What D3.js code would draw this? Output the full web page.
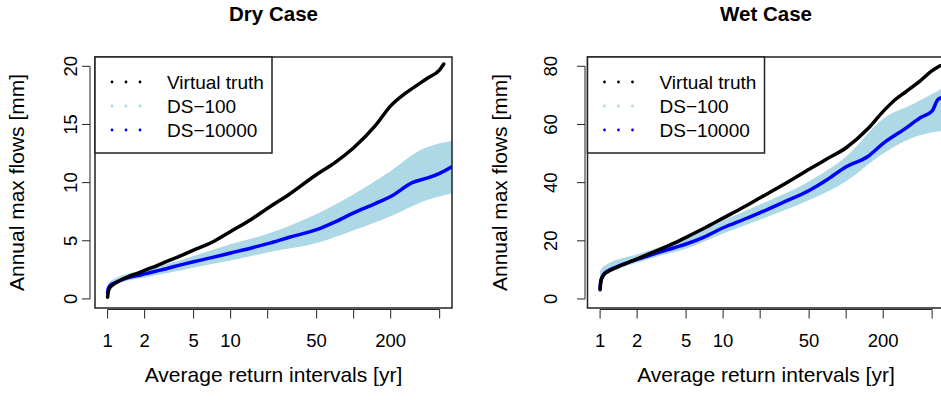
<!DOCTYPE html>
<html>
<head>
<meta charset="utf-8">
<script src="https://cdn.jsdelivr.net/npm/d3@7"></script>
<style>
  body { margin: 0; background: #fff; }
  svg { font-family: "Liberation Sans", Arial, Helvetica, sans-serif; }
  .box { fill: none; stroke: #222; stroke-width: 1.5; }
  .axis-line { stroke: #222; stroke-width: 1; }
</style>
</head>
<body>
<div id="chart"></div>
<script>
var tTruthDry = [1.0, 1.01, 1.03, 1.06, 1.1, 1.2, 1.35, 1.5, 1.75, 2, 2.5, 3, 4, 5, 7, 10, 15, 20, 30, 50, 70, 100, 150, 200, 250, 300, 400, 500, 540];
var truthDry  = [0.15, 0.55, 0.85, 1.05, 1.2, 1.45, 1.75, 1.95, 2.2, 2.45, 2.85, 3.2, 3.75, 4.2, 4.85, 5.8, 6.9, 7.8, 9.0, 10.7, 11.7, 13.0, 14.9, 16.6, 17.5, 18.1, 19.0, 19.7, 20.2];

var tDsDry   = [1.0, 1.01, 1.03, 1.06, 1.1, 1.2, 1.35, 1.5, 1.75, 2, 2.5, 3, 4, 5, 7, 10, 15, 20, 30, 50, 70, 100, 150, 200, 300, 400, 500, 640];
var ds10kDry = [0.55, 0.85, 1.05, 1.2, 1.3, 1.5, 1.7, 1.85, 2.0, 2.15, 2.4, 2.6, 2.95, 3.2, 3.55, 3.95, 4.4, 4.75, 5.3, 5.95, 6.6, 7.4, 8.2, 8.8, 10.0, 10.4, 10.8, 11.4];

var tBandDry  = [1.0, 1.03, 1.1, 1.2, 1.5, 2, 3, 5, 10, 20, 50, 100, 200, 350, 640];
var ds100LoDry = [0.3, 0.8, 1.1, 1.3, 1.6, 1.85, 2.2, 2.7, 3.3, 4.0, 4.8, 5.9, 7.1, 8.3, 9.1];
var ds100HiDry = [1.0, 1.4, 1.65, 1.85, 2.2, 2.5, 3.0, 3.7, 4.7, 5.6, 7.3, 9.0, 11.0, 12.8, 13.6];

var tTruthWet = [1.0, 1.01, 1.03, 1.06, 1.1, 1.2, 1.35, 1.5, 1.75, 2, 2.5, 3, 4, 5, 7, 10, 15, 20, 30, 50, 70, 100, 150, 200, 250, 300, 400, 500, 580];
var truthWet  = [3.2, 5.5, 7.0, 8.0, 8.8, 9.8, 10.8, 11.6, 12.8, 13.8, 15.5, 16.9, 19.2, 21.2, 24.3, 27.8, 31.8, 34.8, 39.0, 44.6, 48.2, 52.0, 58.5, 64.5, 68.5, 71.0, 75.0, 78.5, 80.2];

var tDsWet   = [1.0, 1.01, 1.03, 1.06, 1.1, 1.2, 1.35, 1.5, 1.75, 2, 2.5, 3, 4, 5, 7, 10, 15, 20, 30, 50, 70, 100, 150, 200, 300, 400, 500, 560, 640];
var ds10kWet = [3.5, 5.8, 7.2, 8.2, 9.0, 10.0, 11.0, 11.8, 12.8, 13.6, 14.9, 16.0, 17.6, 18.9, 21.3, 24.5, 27.5, 29.7, 33.0, 37.3, 41.0, 45.5, 49.0, 53.5, 58.5, 62.3, 64.7, 68.7, 69.5];

var tBandWet  = [1.0, 1.03, 1.1, 1.2, 1.5, 2, 3, 5, 10, 20, 50, 100, 200, 350, 640];
var ds100LoWet = [3.0, 6.5, 8.0, 9.0, 10.8, 12.5, 14.8, 17.3, 22.5, 27.3, 34.0, 40.5, 50.0, 55.5, 58.0];
var ds100HiWet = [9.5, 10.5, 11.5, 12.5, 14.0, 15.3, 17.8, 21.0, 27.0, 32.5, 40.5, 49.0, 62.0, 67.0, 73.0];

var xTicks = [1, 2, 5, 10, 20, 50, 100, 200, 500];
var xTickLabels = ["1", "2", "5", "10", "", "50", "", "200", ""];
var yTicksDry = [0, 5, 10, 15, 20];
var yTicksWet = [0, 20, 40, 60, 80];

var legendNames = ["Virtual truth", "DS\u2212100", "DS\u221210000"];
var legendColors = ["#000000", "#add8e6", "#0000ff"];

var width = 941, height = 402;

var svg = d3.select("#chart").append("svg")
    .attr("width", width)
    .attr("height", height);

var defs = svg.append("defs");

function drawPanel(opt) {
    var left = opt.left, top = 57, w = 357, h = 251;

    var x = d3.scaleLog()
        .domain([0.79, 630])
        .range([left, left + w]);

    var y = d3.scaleLinear()
        .domain(opt.yDomain)
        .range([top + h, top]);

    defs.append("clipPath").attr("id", opt.id + "-clip")
        .append("rect")
        .attr("x", left).attr("y", top)
        .attr("width", w).attr("height", h);

    var g = svg.append("g");
    var plot = g.append("g").attr("clip-path", "url(#" + opt.id + "-clip)");

    // DS-100 spread
    var band = opt.tBand.map(function(t, i) { return {t: t, lo: opt.lo[i], hi: opt.hi[i]}; });
    var area = d3.area()
        .curve(d3.curveMonotoneX)
        .x(function(d) { return x(d.t); })
        .y0(function(d) { return y(d.lo); })
        .y1(function(d) { return y(d.hi); });
    plot.append("path")
        .attr("d", area(band))
        .attr("fill", "#add8e6");

    var line = d3.line()
        .curve(d3.curveMonotoneX)
        .x(function(d) { return x(d.t); })
        .y(function(d) { return y(d.v); });

    // DS-10000
    plot.append("path")
        .attr("d", line(opt.tDs.map(function(t, i) { return {t: t, v: opt.ds[i]}; })))
        .attr("fill", "none")
        .attr("stroke", "#0000ff")
        .attr("stroke-width", 3.5)
        .attr("stroke-linecap", "round");

    // virtual truth
    plot.append("path")
        .attr("d", line(opt.tTruth.map(function(t, i) { return {t: t, v: opt.truth[i]}; })))
        .attr("fill", "none")
        .attr("stroke", "#000")
        .attr("stroke-width", 3.5)
        .attr("stroke-linecap", "round");

    // box
    g.append("rect")
        .attr("class", "box")
        .attr("x", left).attr("y", top)
        .attr("width", w).attr("height", h);

    // x axis
    var xAxisY = top + h + 1.5;
    g.append("line")
        .attr("class", "axis-line")
        .attr("x1", x(xTicks[0])).attr("x2", x(xTicks[xTicks.length - 1]))
        .attr("y1", xAxisY).attr("y2", xAxisY);
    g.selectAll(".xtick")
        .data(xTicks)
        .enter().append("line")
        .attr("x1", function(d) { return x(d); })
        .attr("x2", function(d) { return x(d); })
        .attr("y1", xAxisY).attr("y2", xAxisY + 9)
        .attr("stroke", "#222");
    g.selectAll(".xlab")
        .data(xTicks)
        .enter().append("text")
        .attr("x", function(d) { return x(d); })
        .attr("y", 347)
        .attr("text-anchor", "middle")
        .style("font-size", "18.5px")
        .text(function(d, i) { return xTickLabels[i]; });

    // y axis
    var ax = opt.yAxisX;
    g.append("line")
        .attr("class", "axis-line")
        .attr("x1", ax).attr("x2", ax)
        .attr("y1", y(opt.yTicks[0])).attr("y2", y(opt.yTicks[opt.yTicks.length - 1]));
    g.selectAll(".ytick")
        .data(opt.yTicks)
        .enter().append("line")
        .attr("x1", ax - 8).attr("x2", ax)
        .attr("y1", function(d) { return y(d); })
        .attr("y2", function(d) { return y(d); })
        .attr("stroke", "#222");
    g.selectAll(".ylab")
        .data(opt.yTicks)
        .enter().append("text")
        .attr("transform", function(d) { return "translate(" + opt.yTickLabX + "," + y(d) + ") rotate(-90)"; })
        .attr("text-anchor", "middle")
        .style("font-size", "18.5px")
        .text(function(d) { return d; });

    // titles
    g.append("text")
        .attr("x", left + w / 2).attr("y", 21)
        .attr("text-anchor", "middle")
        .style("font-size", "20.5px")
        .style("font-weight", "bold")
        .text(opt.title);

    g.append("text")
        .attr("x", left + w / 2).attr("y", 382)
        .attr("text-anchor", "middle")
        .style("font-size", "21px")
        .text("Average return intervals [yr]");

    g.append("text")
        .attr("transform", "translate(" + opt.yLabelX + "," + (top + h / 2) + ") rotate(-90)")
        .attr("text-anchor", "middle")
        .style("font-size", "21px")
        .text("Annual max flows [mm]");

    // legend
    var lg = g.append("g");
    lg.append("rect")
        .attr("x", left).attr("y", top)
        .attr("width", 177).attr("height", 96)
        .attr("fill", "#fff")
        .attr("stroke", "#222")
        .attr("stroke-width", 1.5);
    legendNames.forEach(function(name, i) {
        var ry = 82 + i * 24;
        [0, 1, 2].forEach(function(k) {
            lg.append("circle")
                .attr("cx", left + 17 + k * 14)
                .attr("cy", ry)
                .attr("r", 1.4)
                .attr("fill", legendColors[i]);
        });
        lg.append("text")
            .attr("x", left + 72)
            .attr("y", ry + 7)
            .style("font-size", "19px")
            .text(name);
    });
}

drawPanel({
    id: "dry", title: "Dry Case", left: 95, yAxisX: 90, yTickLabX: 77, yLabelX: 24,
    yDomain: [-0.78, 20.8], yTicks: yTicksDry,
    tTruth: tTruthDry, truth: truthDry, tDs: tDsDry, ds: ds10kDry,
    tBand: tBandDry, lo: ds100LoDry, hi: ds100HiDry
});

drawPanel({
    id: "wet", title: "Wet Case", left: 587.5, yAxisX: 585, yTickLabX: 557, yLabelX: 507,
    yDomain: [-3.1, 83.2], yTicks: yTicksWet,
    tTruth: tTruthWet, truth: truthWet, tDs: tDsWet, ds: ds10kWet,
    tBand: tBandWet, lo: ds100LoWet, hi: ds100HiWet
});
</script>
</body>
</html>
